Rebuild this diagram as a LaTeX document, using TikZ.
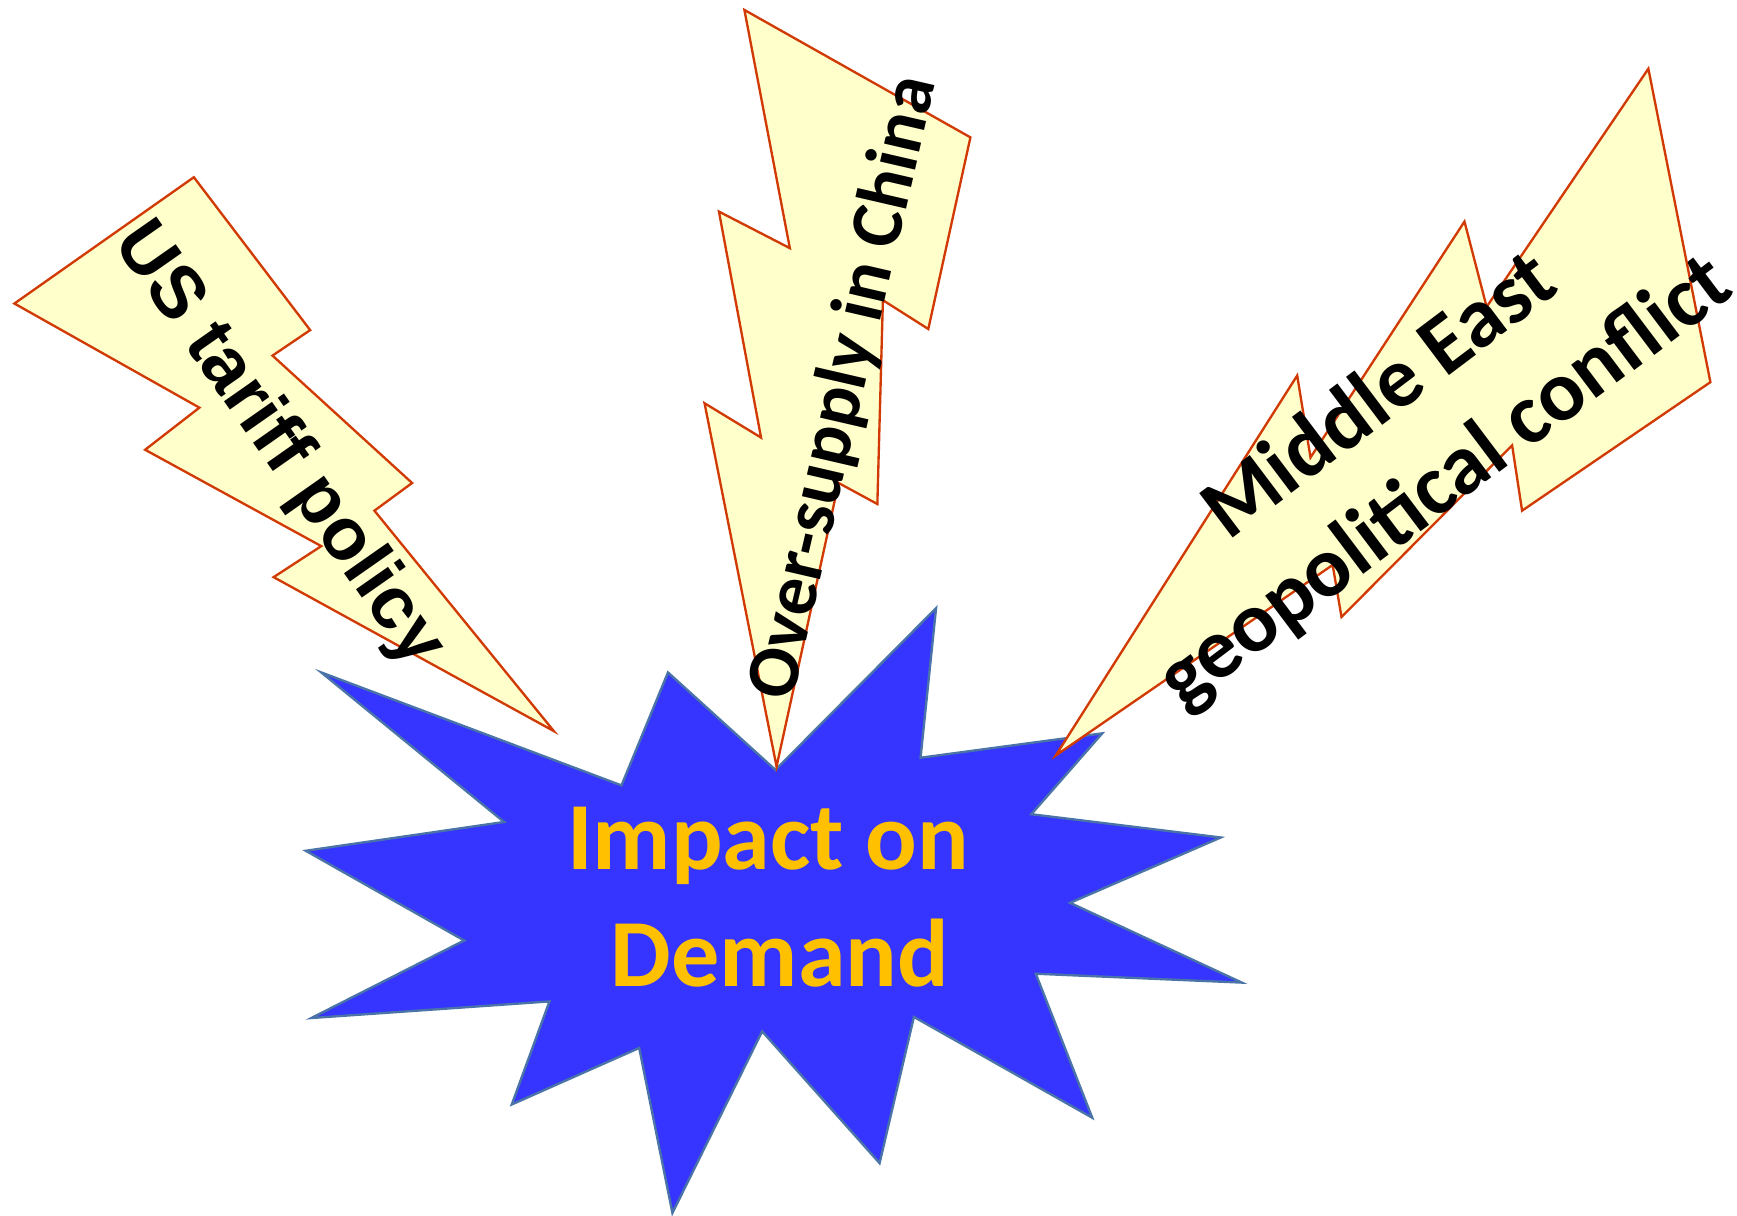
\documentclass[tikz,border=0pt]{standalone}
\usepackage{fontspec}
\setmainfont{Carlito}
\newfontfamily\arialfont{Liberation Sans}
\definecolor{boltfill}{HTML}{FFFFCC}
\definecolor{boltline}{HTML}{D13A05}
\definecolor{burstfill}{HTML}{3535FF}
\definecolor{burstline}{HTML}{4A74A8}
\definecolor{impacttext}{HTML}{FFC000}
\begin{document}
\begin{tikzpicture}[x=0.01cm,y=-0.01cm,
  bolt/.style={fill=boltfill, draw=boltline, line width=0.6pt, line join=miter},
  burst/.style={fill=burstfill, draw=burstline, line width=0.6pt, line join=miter},
  lbl/.style={font=\bfseries, text=black, inner sep=0pt, align=center}]
\useasboundingbox (0,0) rectangle (1568,1097);
% central burst
\draw[burst] (290,607) -- (561,709) -- (603,607) -- (700,695) -- (845,549) -- (831,684)
  -- (995,662) -- (931,735) -- (1102,756) -- (966,815) -- (1121,887) -- (935,879)
  -- (986,1009) -- (825,918) -- (794,1050) -- (688,931) -- (607,1095) -- (577,946)
  -- (462,997) -- (496,904) -- (281,919) -- (419,849) -- (276,768) -- (455,742) -- cycle;
% bolt 1: US tariff policy
\draw[bolt] (175,160) -- (280,298) -- (246,321) -- (372,436) -- (338,461) -- (500,660)
  -- (247,521) -- (290,493) -- (131,406) -- (180,368) -- (13,274) -- cycle;
% bolt 2: Over-supply in China
\draw[bolt] (672,9) -- (876,124) -- (838,297) -- (797,271) -- (792,455) -- (757,436)
  -- (701,692) -- (636,364) -- (687,395) -- (649,191) -- (713,224) -- cycle;
% bolt 3: Middle East
\draw[bolt] (1488,62) -- (1544,345) -- (1374,461) -- (1365,402) -- (1211,557) -- (1203,510)
  -- (953,682) -- (1171,339) -- (1183,413) -- (1322,200) -- (1342,277) -- cycle;
% labels
\node[lbl, font=\arialfont\bfseries\fontsize{19}{23}\selectfont, rotate=-55] (us) at (251,402) {US tariff policy};
\node[lbl, font=\bfseries\fontsize{19}{23}\selectfont, rotate=77] (china) at (762,350) {Over-supply in China};
\node[lbl, font=\bfseries\fontsize{22}{27.7}\selectfont, rotate=37] (me) at (1276,398) {Middle East\\geopolitical conflict};
\node[lbl, text=impacttext, font=\bfseries\fontsize{24.7}{30}\selectfont] (impact) at (704,810) {Impact on\rule{6pt}{0pt}\\Demand};
\end{tikzpicture}
\end{document}
